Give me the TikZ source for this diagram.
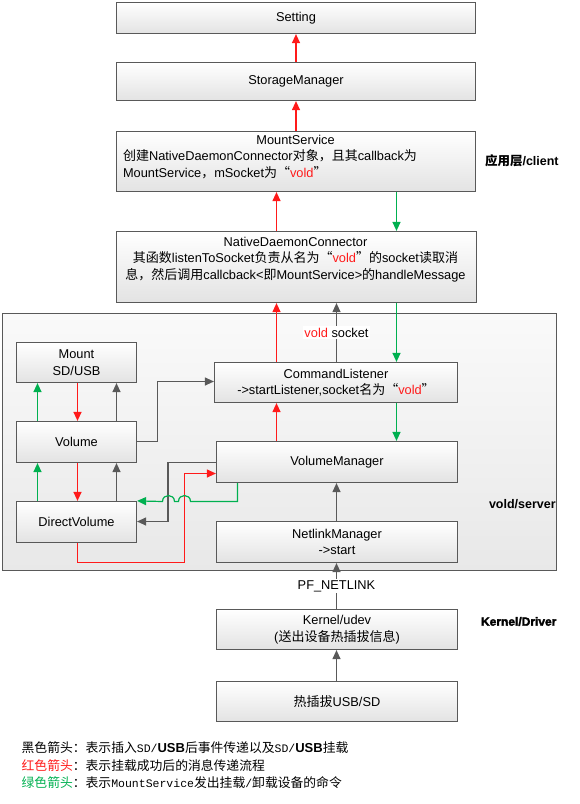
\documentclass[tikz,border=0pt]{standalone}
\usepackage{fontspec}
\setmainfont{Liberation Sans}
\newfontfamily\cjk{Noto Sans CJK SC}
\newfontfamily\monof{Liberation Mono}
\newfontfamily\heavyfont{Liberation Sans Bold}[FakeBold=2.5]
\usetikzlibrary{arrows.meta,calc}
\definecolor{cred}{HTML}{FF1A1A}
\definecolor{cgreen}{HTML}{00B050}
\definecolor{cgray}{HTML}{595959}
\definecolor{cborder}{HTML}{595959}
\newcommand\zh[1]{{\cjk\fontsize{13}{16.5}\selectfont #1}}
\newcommand\lz[1]{{\cjk\fontsize{12.8}{15}\selectfont #1}}
\newcommand\lm[1]{{\monof\fontsize{11.5}{15}\selectfont #1}}
\newcommand\lb[1]{{\bfseries\fontsize{13}{15}\selectfont #1}}
\newcommand\rv[1]{\textcolor{cred}{#1}}
\begin{document}
\begin{tikzpicture}[x=1pt,y=-1pt,
  font=\fontsize{12.8}{16.5}\selectfont,
  box/.style={draw=cborder, line width=1.2pt, top color=white, bottom color=black!11, inner sep=0pt, align=center},
  outerbox/.style={draw=cborder, line width=1.2pt, top color=black!2, bottom color=black!9},
  ar/.style={-{Triangle[length=9pt,width=8pt]}, line width=1.2pt},
  lbl/.style={fill=white, text=black, inner sep=1.5pt},
  side/.style={anchor=west, font=\bfseries\fontsize{12.5}{15}\selectfont}]
\useasboundingbox (-0.5,-0.5) rectangle (578.5,803.5);

% outer vold box
\node[outerbox, minimum width=554pt, minimum height=257pt] (outer) at (279,441.5) {};

% boxes
\node[box, minimum width=359pt, minimum height=31pt] (setting) at (295.5,17.5) {Setting};
\node[box, minimum width=359pt, minimum height=38pt] (storage) at (295.5,81) {StorageManager};
\node[box, minimum width=359pt, minimum height=60pt] (msvc) at (295.5,161) {};
\node[box, minimum width=360pt, minimum height=71pt] (ndc) at (296,266.5) {};
\node[box, minimum width=120pt, minimum height=40pt] (mnt) at (76,362) {Mount\\SD/USB};
\node[box, minimum width=120pt, minimum height=41pt] (vol) at (76,441.5) {Volume};
\node[box, minimum width=120pt, minimum height=41pt] (dv) at (76,521.5) {DirectVolume};
\node[box, minimum width=243pt, minimum height=40pt] (cl) at (335.5,382) {CommandListener\\->startListener,socket\zh{名为“}\rv{vold}\zh{”}};
\node[box, minimum width=241pt, minimum height=41pt] (vm) at (336.5,461.5) {VolumeManager};
\node[box, minimum width=241pt, minimum height=41pt] (nm) at (336.5,541.5) {NetlinkManager\\->start};
\node[box, minimum width=241pt, minimum height=40pt] (kern) at (336.5,629) {Kernel/udev\\(\zh{送出设备热插拔信息})};
\node[box, minimum width=241pt, minimum height=40pt] (hot) at (336.5,701) {\zh{热插拔}USB/SD};

% texts of MountService and NativeDaemonConnector
\node[anchor=base] (mst1) at (295,143.5) {MountService};
\node[anchor=base west] (mst2) at (119,160) {\zh{创建}NativeDaemonConnector\zh{对象，且其}callback\zh{为}};
\node[anchor=base west] (mst3) at (119,176.5) {MountService\zh{，}mSocket\zh{为“}\rv{vold}\zh{”}};
\node[anchor=base] (ndt1) at (295,246) {NativeDaemonConnector};
\node[anchor=base] (ndt2) at (295,262) {\zh{其函数}listenToSocket\zh{负责从名为“}\rv{vold}\zh{”的}socket\zh{读取消}};
\node[anchor=base] (ndt3) at (295,279) {\zh{息，然后调用}callcback<\zh{即}MountService>\zh{的}handleMessage};

% side labels
\node[side] (lapp) at (481,160) {{\cjk 应用层}/client};
\node[side] (lvold) at (485,504) {vold/server};
\node[anchor=west, font=\heavyfont\fontsize{12}{15}\selectfont] (lkern) at (477,621) {Kernel/Driver};

% x positions
\coordinate (xa) at (37,0);
\coordinate (xb) at (77,0);
\coordinate (xc) at (116,0);
\coordinate (xr) at (276,0);
\coordinate (xg) at (336,0);
\coordinate (xn) at (396,0);
\coordinate (xvg) at (237,0);
\coordinate (redup) at (184,473);
\coordinate (yvol) at (0,441);
\coordinate (yvm) at (0,462);
\coordinate (ydv) at (0,521);
\coordinate (ycl) at (0,381);

% top chain
\draw[ar,cred] (storage.north) -- (setting.south);
\draw[ar,cred] (msvc.north) -- (storage.south);
\draw[ar,cred] (ndc.north -| xr) -- (msvc.south -| xr);
\draw[ar,cgreen] (msvc.south -| xn) -- (ndc.north -| xn);
\draw[ar,cred] (cl.north -| xr) -- (ndc.south -| xr);
\draw[ar,cgray] (cl.north -| xg) -- node[lbl] (vs) {\rv{vold} socket} (ndc.south -| xg);
\draw[ar,cgreen] (ndc.south -| xn) -- (cl.north -| xn);
\draw[ar,cgreen] (cl.south -| xn) -- (vm.north -| xn);
\draw[ar,cred] (vm.north -| xr) -- (cl.south -| xr);
\draw[ar,cgray] (nm.north -| xg) -- (vm.south -| xg);
\draw[ar,cgray] (kern.north -| xg) -- node[lbl] (pf) {PF\_NETLINK} (nm.south -| xg);
\draw[ar,cgray] (hot.north -| xg) -- (kern.south -| xg);

% left column
\draw[ar,cgreen] (vol.north -| xa) -- (mnt.south -| xa);
\draw[ar,cred] (mnt.south -| xb) -- (vol.north -| xb);
\draw[ar,cgray] (vol.north -| xc) -- (mnt.south -| xc);
\draw[ar,cgreen] (dv.north -| xa) -- (vol.south -| xa);
\draw[ar,cred] (vol.south -| xb) -- (dv.north -| xb);
\draw[ar,cgray] (dv.north -| xc) -- (vol.south -| xc);

% cross connections
\draw[ar,cgray] (vol.east |- yvol) -- ++(20,0) |- (cl.west |- ycl);
\draw[ar,cgray] (vm.west |- yvm) -- ++(-48,0) |- (dv.east |- ydv);
\draw[ar,cred] (dv.south -| xb) -- ++(0,19) -| (redup) -- (vm.west |- redup);
\draw[ar,cgreen] (vm.south -| xvg) -- (237,501) -- (190,501)
  .. controls (190,493) and (178,493) .. (178,501) -- (174,501)
  .. controls (174,493) and (162,493) .. (162,501) -- (dv.north east);

% legend
\node[anchor=base west, inner sep=0pt] (lg1) at (21,752) {\lz{黑色箭头：表示插入}\lm{SD/}\lb{USB}\lz{后事件传递以及}\lm{SD/}\lb{USB}\lz{挂载}};
\node[anchor=base west, inner sep=0pt] (lg2) at (21,770) {\lz{\textcolor{cred}{红色箭头}：表示挂载成功后的消息传递流程}};
\node[anchor=base west, inner sep=0pt] (lg3) at (21,787) {\lz{\textcolor{cgreen}{绿色箭头}：表示}\lm{MountService}\lz{发出挂载}\lm{/}\lz{卸载设备的命令}};
\end{tikzpicture}
\end{document}
